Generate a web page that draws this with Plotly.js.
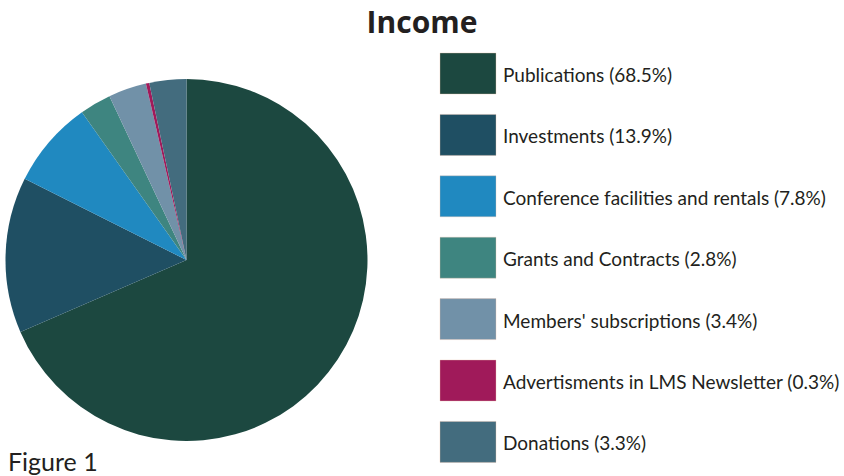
<!DOCTYPE html>
<html>
<head>
<meta charset="utf-8">
<script src="https://cdn.plot.ly/plotly-3.0.1.min.js"></script>
<style>html,body{margin:0;padding:0;background:#fff;}#chart{width:844px;height:476px;}</style>
</head>
<body>
<div id="chart"></div>
<script>
const categories = ["Publications", "Investments", "Conference facilities and rentals", "Grants and Contracts", "Members' subscriptions", "Advertisments in LMS Newsletter", "Donations"];
const shares = [68.5, 13.9, 7.8, 2.8, 3.4, 0.3, 3.3];
const colors = ["#1c4840", "#1f4f63", "#2089c0", "#3e8580", "#7191a8", "#a01a5a", "#436c7e"];

const W = 844, H = 476;
const px = x => x / W;
const py = y => 1 - y / H;

// pie placement (pixels)
const cx = 186.5, cy = 260, r = 181;

const trace = {
  type: 'pie',
  labels: categories,
  values: shares,
  sort: false,
  direction: 'clockwise',
  rotation: 0,
  textinfo: 'none',
  hoverinfo: 'label+percent',
  marker: {colors: colors, line: {width: 0}},
  domain: {x: [px(cx - r), px(cx + r)], y: [py(cy + r), py(cy - r)]},
  showlegend: false
};

const shapes = [];
const annotations = [];
const boxX0 = 440, boxX1 = 496, boxTop0 = 53, step = 61.4, boxH = 41;
categories.forEach((c, i) => {
  const t = boxTop0 + i * step;
  shapes.push({type: 'rect', xref: 'paper', yref: 'paper',
    x0: px(boxX0), x1: px(boxX1), y0: py(t + boxH), y1: py(t),
    fillcolor: colors[i], line: {width: 0.6, color: 'rgba(230,190,170,0.6)'}});
  annotations.push({xref: 'paper', yref: 'paper', x: px(501), y: py(t + boxH / 2 + 1),
    xanchor: 'left', yanchor: 'middle', showarrow: false,
    text: c + ' (' + shares[i].toFixed(1) + '%)',
    font: {family: 'Lato, sans-serif', size: 19, color: '#231f20'}});
});
annotations.push({xref: 'paper', yref: 'paper', x: px(6), y: py(461),
  xanchor: 'left', yanchor: 'middle', showarrow: false, text: 'Figure 1',
  font: {family: 'Lato, sans-serif', size: 25, color: '#231f20'}});

const layout = {
  width: W, height: H,
  margin: {l: 0, r: 0, t: 0, b: 0},
  paper_bgcolor: '#ffffff',
  title: {text: '<b>Income</b>', x: 0.5, xanchor: 'center', y: py(22), yanchor: 'middle',
    font: {family: 'Open Sans, sans-serif', size: 30, color: '#231f20'}},
  shapes: shapes,
  annotations: annotations,
  showlegend: false
};

Plotly.newPlot('chart', [trace], layout, {displayModeBar: false, staticPlot: true});
</script>
</body>
</html>
